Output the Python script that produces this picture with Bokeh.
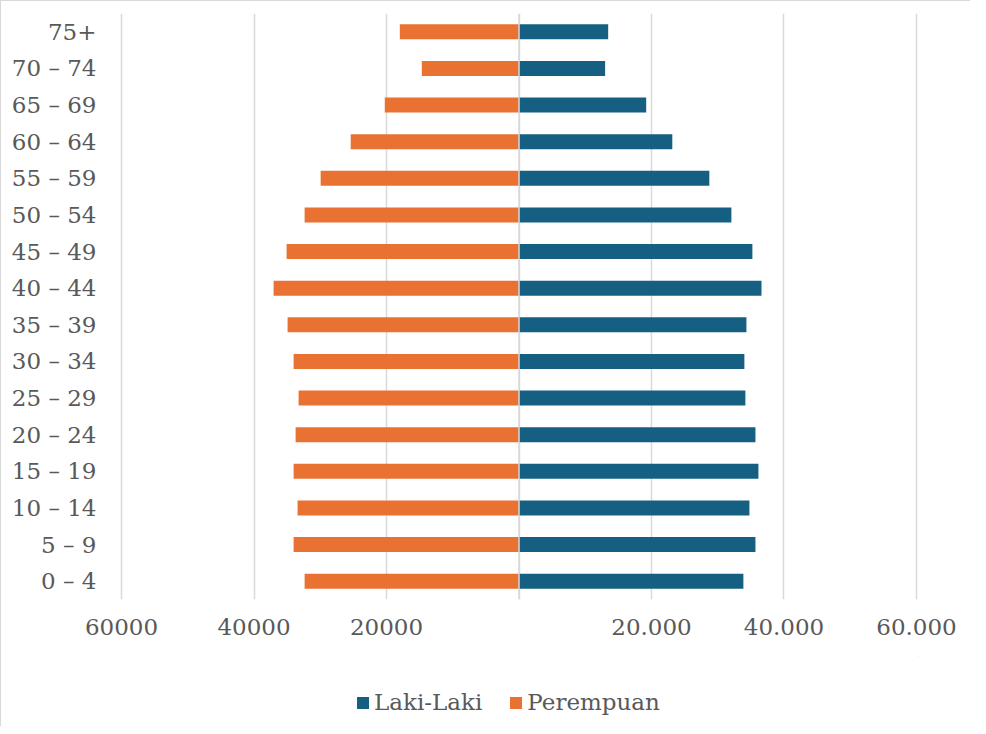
from bokeh.plotting import figure
from bokeh.layouts import column
from bokeh.models import (FactorRange, Range1d, FixedTicker, Legend, LegendItem,
                          ColumnDataSource, Span)
from bokeh.embed import file_html
from bokeh.resources import INLINE

# ---- data ----
age_groups = ["0 – 4", "5 – 9", "10 – 14", "15 – 19", "20 – 24", "25 – 29",
              "30 – 34", "35 – 39", "40 – 44", "45 – 49", "50 – 54", "55 – 59",
              "60 – 64", "65 – 69", "70 – 74", "75+"]
laki_laki = [33870, 35690, 34780, 36140, 35690, 34170, 34020, 34330,
             36600, 35230, 32060, 28730, 23140, 19200, 13000, 13460]
perempuan = [32360, 34020, 33420, 34020, 33720, 33270, 34020, 34930,
             37040, 35080, 32360, 29940, 25400, 20260, 14670, 17990]
tick_values = [-60000, -40000, -20000, 0, 20000, 40000, 60000]
tick_labels = ["60000", "40000", "20000", "", "20.000", "40.000", "60.000"]
series_names = ["Laki-Laki", "Perempuan"]
colors = ["#156082", "#E97132"]

FONT = "DejaVu Serif"
TXT = "#595959"
GRID = "#d9d9d9"

src = ColumnDataSource(data=dict(
    y=age_groups,
    l_right=laki_laki,
    zero=[0] * len(age_groups),
    p_left=[-v for v in perempuan],
))

p = figure(frame_width=800, frame_height=585, output_backend="svg",
           toolbar_location=None,
           y_range=FactorRange(factors=age_groups, range_padding=0),
           x_range=Range1d(-60453, 60453),
           min_border_left=117, min_border_right=52,
           min_border_top=12, min_border_bottom=58)
p.styles = {"border-left": f"1px solid {GRID}", "border-top": f"1px solid {GRID}"}
p.outline_line_color = None
p.background_fill_color = "white"
p.border_fill_color = "white"

r_l = p.hbar(y="y", left="zero", right="l_right", height=0.41, source=src,
             fill_color=colors[0], line_color=None)
r_p = p.hbar(y="y", left="p_left", right="zero", height=0.41, source=src,
             fill_color=colors[1], line_color=None)

p.add_layout(Span(location=0, dimension="height", line_color=GRID,
                  line_width=1.5, level="overlay"))

p.ygrid.grid_line_color = None
p.xgrid.grid_line_color = GRID
p.xgrid.grid_line_width = 1.5
p.xaxis.ticker = FixedTicker(ticks=tick_values)
p.xaxis.major_label_overrides = {v: t for v, t in zip(tick_values, tick_labels)}

for ax in (p.xaxis[0], p.yaxis[0]):
    ax.axis_line_color = None
    ax.major_tick_line_color = None
    ax.minor_tick_line_color = None
    ax.major_tick_out = 0
    ax.major_tick_in = 0
    ax.major_label_text_font = FONT
    ax.major_label_text_font_size = "23px"
    ax.major_label_text_color = TXT
p.xaxis.major_label_standoff = 19
p.yaxis.major_label_standoff = 22

# ---- legend strip below the chart ----
leg = figure(width=969, height=70, output_backend="svg", toolbar_location=None,
             x_range=Range1d(0, 1), y_range=Range1d(0, 1),
             min_border_left=0, min_border_right=0,
             min_border_top=0, min_border_bottom=0)
leg.styles = {"border-left": f"1px solid {GRID}"}
leg.axis.visible = False
leg.grid.visible = False
leg.outline_line_color = None
# swatch renderers kept outside the visible range; they only feed the legend
dummy_l = leg.hbar(y=[5], left=[5], right=[6], height=0.4,
                   fill_color=colors[0], line_color=None)
dummy_p = leg.hbar(y=[5], left=[5], right=[6], height=0.4,
                   fill_color=colors[1], line_color=None)

legend = Legend(items=[LegendItem(label=series_names[0], renderers=[dummy_l]),
                       LegendItem(label=series_names[1], renderers=[dummy_p])],
                orientation="horizontal", location=(237, 11),
                label_text_font=FONT, label_text_font_size="23px",
                label_text_color=TXT, glyph_width=15, glyph_height=15,
                label_standoff=4, spacing=26, border_line_color=None,
                background_fill_alpha=0, margin=0, padding=0)
leg.add_layout(legend)

layout = column(p, leg, spacing=0)
open("out.html", "w").write(file_html(layout, INLINE))
